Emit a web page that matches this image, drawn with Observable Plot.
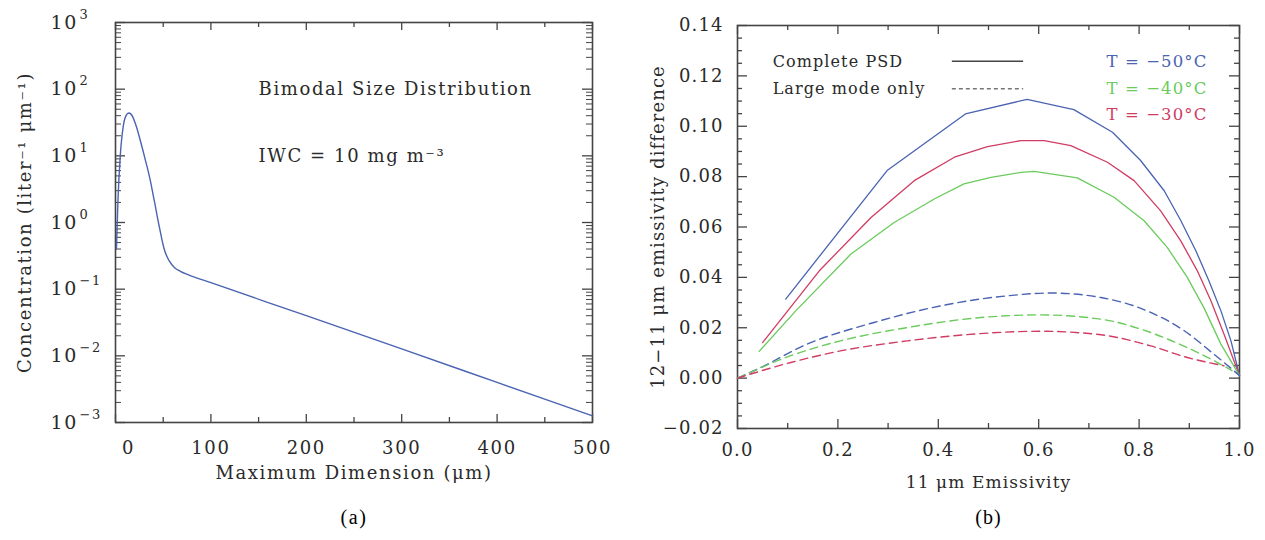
<!DOCTYPE html>
<html>
<head>
<meta charset="utf-8">
<script src="https://cdn.jsdelivr.net/npm/d3@7"></script>
<script src="https://cdn.jsdelivr.net/npm/@observablehq/plot@0.6"></script>
<style>
  body { margin: 0; background: #fff; }
  #wrap { position: relative; width: 1265px; height: 540px; background: #fff; }
  #wrap svg { position: absolute; top: 0; }
</style>
</head>
<body>
<div id="wrap"></div>
<script>
// ---------- Panel (a) data: bimodal size distribution ----------
const sizeX = [1, 2.5, 5, 8, 11, 14, 17, 21, 26, 31, 36, 41, 46, 51, 56, 62, 68, 76, 100, 200, 300, 400, 500];
const concY = [0.4, 2.0, 10, 27, 40, 44, 41, 30, 17, 9, 4.6, 2.0, 0.85, 0.40, 0.27, 0.21, 0.185, 0.165, 0.125, 0.040, 0.0127, 0.0040, 0.00126];
const aXTicks = [0, 100, 200, 300, 400, 500];
const aXMinor = [50, 150, 250, 350, 450];
const aYTicks = [1e-3, 1e-2, 1e-1, 1e0, 1e1, 1e2, 1e3];
const aYTickBase = "10";
const aYTickExp = ["−3", "−2", "−1", "0", "1", "2", "3"];
const aTexts = ["Bimodal Size Distribution", "IWC = 10 mg m⁻³"];
const aXLabel = "Maximum Dimension (μm)";
const aYLabel = "Concentration (liter⁻¹ μm⁻¹)";

// ---------- Panel (b) data: emissivity differences ----------
const blueSolidX = [0.096, 0.298, 0.454, 0.577, 0.670, 0.747, 0.803, 0.850, 0.883, 0.913, 0.939, 0.963, 0.983, 1.0];
const blueSolidY = [0.0314, 0.0824, 0.1049, 0.1107, 0.1066, 0.0976, 0.0864, 0.0744, 0.0626, 0.0506, 0.0387, 0.0267, 0.0148, 0.001];
const redSolidX = [0.050, 0.163, 0.266, 0.352, 0.432, 0.498, 0.565, 0.611, 0.664, 0.737, 0.790, 0.843, 0.883, 0.916, 0.943, 0.969, 1.0];
const redSolidY = [0.0141, 0.0426, 0.0638, 0.0784, 0.0877, 0.0919, 0.0943, 0.0943, 0.0923, 0.0857, 0.0784, 0.0664, 0.0545, 0.0426, 0.0307, 0.0175, 0.001];
const greenSolidX = [0.043, 0.116, 0.226, 0.312, 0.392, 0.451, 0.505, 0.565, 0.591, 0.677, 0.750, 0.810, 0.856, 0.896, 0.929, 0.963, 1.0];
const greenSolidY = [0.0106, 0.0267, 0.0493, 0.0618, 0.0711, 0.0771, 0.0797, 0.0817, 0.0821, 0.0795, 0.0718, 0.0625, 0.0519, 0.0400, 0.0280, 0.0135, 0.001];
const blueDashX = [0.0, 0.040, 0.139, 0.272, 0.405, 0.538, 0.624, 0.724, 0.823, 0.890, 0.949, 0.989, 1.0];
const blueDashY = [0.0, 0.0036, 0.0135, 0.0221, 0.0287, 0.0327, 0.0338, 0.0320, 0.0261, 0.0188, 0.0095, 0.0029, 0.001];
const greenDashX = [0.0, 0.106, 0.205, 0.339, 0.471, 0.604, 0.724, 0.823, 0.896, 0.956, 0.985];
const greenDashY = [0.0, 0.0089, 0.0148, 0.0201, 0.0238, 0.0251, 0.0234, 0.0181, 0.0121, 0.0062, 0.003];
const redDashX = [0.0, 0.106, 0.205, 0.339, 0.471, 0.604, 0.724, 0.823, 0.896, 0.969];
const redDashY = [0.0, 0.0062, 0.0108, 0.0148, 0.0175, 0.0186, 0.0172, 0.0128, 0.0082, 0.0049];
const bXTicks = [0.0, 0.2, 0.4, 0.6, 0.8, 1.0];
const bXMinor = [0.1, 0.3, 0.5, 0.7, 0.9];
const bYTicks = [-0.02, 0.00, 0.02, 0.04, 0.06, 0.08, 0.10, 0.12, 0.14];
const seriesNames = ["T = −50°C", "T = −40°C", "T = −30°C"];
const legendNames = ["Complete PSD", "Large mode only"];
const bXLabel = "11 μm Emissivity";
const bYLabel = "12−11 μm emissivity difference";

const BLUE = "#4a63b2", GREEN = "#6acb5c", RED = "#d03c62";
const INK = "#2a2a2a", FRAME = "#444";
const FONT = "DejaVu Serif";

const zip = (xs, ys) => xs.map((x, i) => ({x, y: ys[i]}));

// ---------- Panel (a) ----------
const aW = 620, aH = 540, aML = 115, aMR = 28, aMT = 22, aMB = 118;
const aIW = aW - aML - aMR, aIH = aH - aMT - aMB;
const aYMinor = [];
for (let e = -3; e < 3; e++) for (let k = 2; k <= 9; k++) aYMinor.push(k * Math.pow(10, e));

const plotA = Plot.plot({
  width: aW, height: aH,
  marginLeft: aML, marginRight: aMR, marginTop: aMT, marginBottom: aMB,
  x: {domain: [0, 500], axis: null},
  y: {type: "log", domain: [1e-3, 1e3], axis: null},
  style: {fontFamily: FONT, fontSize: "18px", letterSpacing: "1.6px", color: INK, background: "transparent", overflow: "visible"},
  marks: [
    // inward ticks
    Plot.tickX(aXTicks, {x: d => d, insetTop: aIH - 8, stroke: FRAME, strokeWidth: 1.3}),
    Plot.tickX(aXMinor, {x: d => d, insetTop: aIH - 5, stroke: FRAME, strokeWidth: 1.3}),
    Plot.tickX(aXTicks, {x: d => d, insetBottom: aIH - 8, stroke: FRAME, strokeWidth: 1.3}),
    Plot.tickX(aXMinor, {x: d => d, insetBottom: aIH - 5, stroke: FRAME, strokeWidth: 1.3}),
    Plot.tickY(aYTicks, {y: d => d, insetRight: aIW - 10, stroke: FRAME, strokeWidth: 1.3}),
    Plot.tickY(aYMinor, {y: d => d, insetRight: aIW - 6, stroke: FRAME, strokeWidth: 1}),
    Plot.tickY(aYTicks, {y: d => d, insetLeft: aIW - 10, stroke: FRAME, strokeWidth: 1.3}),
    Plot.tickY(aYMinor, {y: d => d, insetLeft: aIW - 6, stroke: FRAME, strokeWidth: 1}),
    Plot.frame({stroke: FRAME, strokeWidth: 1.6}),
    // tick labels
    Plot.text(aXTicks.filter(d => d !== 0), {x: d => d, text: d => String(d), frameAnchor: "bottom", dy: 31, fill: INK}),
    Plot.text(aXTicks.filter(d => d === 0), {x: d => d, text: d => String(d), frameAnchor: "bottom", dy: 31, dx: 13, fill: INK}),
    Plot.text(aYTicks, {y: d => d, text: () => aYTickBase, frameAnchor: "left", dx: -65, textAnchor: "start", fontSize: 19, fill: INK}),
    Plot.text(aYTicks, {y: d => d, text: (d, i) => aYTickExp[i], frameAnchor: "left", dx: -36, dy: -8, textAnchor: "start", fontSize: 13, fill: INK}),
    // curve
    Plot.line(zip(sizeX, concY), {x: "x", y: "y", stroke: BLUE, strokeWidth: 1.4, curve: "monotone-x"}),
    // annotations
    Plot.text([aTexts[0]], {x: 150, y: 100, text: d => d, textAnchor: "start", fontSize: 18, fill: INK}),
    Plot.text([aTexts[1]], {x: 150, y: 10, text: d => d, textAnchor: "start", fontSize: 18, fill: INK}),
    // axis titles
    Plot.text([aXLabel], {frameAnchor: "bottom", dy: 56, text: d => d, textAnchor: "middle", fontSize: 18, fill: INK}),
    Plot.text([aYLabel], {frameAnchor: "left", dx: -90, rotate: -90, text: d => d, textAnchor: "middle", fontSize: 18, fill: INK}),
    Plot.text(["(a)"], {frameAnchor: "bottom", dy: 101, text: d => d, textAnchor: "middle", fontFamily: "Liberation Serif", fontSize: 20, fill: "#000"})
  ]
});
plotA.style.left = "0px";

// ---------- Panel (b) ----------
const bW = 635, bH = 540, bML = 107, bMR = 26, bMT = 25, bMB = 112;
const bIW = bW - bML - bMR, bIH = bH - bMT - bMB;
const bYMinor = d3.range(-0.015, 0.14, 0.005).filter(v => Math.abs(Math.round(v / 0.02) * 0.02 - v) > 1e-6);
const fmt2 = d3.format(".2f"), fmt1 = d3.format(".1f");

const plotB = Plot.plot({
  width: bW, height: bH,
  marginLeft: bML, marginRight: bMR, marginTop: bMT, marginBottom: bMB,
  x: {domain: [0, 1], axis: null},
  y: {domain: [-0.02, 0.14], axis: null},
  style: {fontFamily: FONT, fontSize: "18px", letterSpacing: "1.1px", color: INK, background: "transparent", overflow: "visible"},
  marks: [
    Plot.tickX(bXTicks, {x: d => d, insetTop: bIH - 9, stroke: FRAME, strokeWidth: 1.3}),
    Plot.tickX(bXMinor, {x: d => d, insetTop: bIH - 5, stroke: FRAME, strokeWidth: 1.3}),
    Plot.tickX(bXTicks, {x: d => d, insetBottom: bIH - 9, stroke: FRAME, strokeWidth: 1.3}),
    Plot.tickX(bXMinor, {x: d => d, insetBottom: bIH - 5, stroke: FRAME, strokeWidth: 1.3}),
    Plot.tickY(bYTicks, {y: d => d, insetRight: bIW - 10, stroke: FRAME, strokeWidth: 1.3}),
    Plot.tickY(bYMinor, {y: d => d, insetRight: bIW - 5, stroke: FRAME, strokeWidth: 1.3}),
    Plot.tickY(bYTicks, {y: d => d, insetLeft: bIW - 10, stroke: FRAME, strokeWidth: 1.3}),
    Plot.tickY(bYMinor, {y: d => d, insetLeft: bIW - 5, stroke: FRAME, strokeWidth: 1.3}),
    Plot.frame({stroke: FRAME, strokeWidth: 1.6}),
    Plot.text(bXTicks, {x: d => d, text: d => fmt1(d), frameAnchor: "bottom", dy: 27, fill: INK}),
    Plot.text(bYTicks, {y: d => d, text: d => fmt2(d), frameAnchor: "left", dx: -14, textAnchor: "end", fill: INK}),
    // solid curves
    Plot.line(zip(blueSolidX, blueSolidY), {x: "x", y: "y", stroke: BLUE, strokeWidth: 1.3}),
    Plot.line(zip(redSolidX, redSolidY), {x: "x", y: "y", stroke: RED, strokeWidth: 1.3}),
    Plot.line(zip(greenSolidX, greenSolidY), {x: "x", y: "y", stroke: GREEN, strokeWidth: 1.3}),
    // dashed curves
    Plot.line(zip(blueDashX, blueDashY), {x: "x", y: "y", stroke: BLUE, strokeWidth: 1.4, strokeDasharray: "8,5", curve: "monotone-x"}),
    Plot.line(zip(greenDashX, greenDashY), {x: "x", y: "y", stroke: GREEN, strokeWidth: 1.4, strokeDasharray: "8,5", curve: "monotone-x"}),
    Plot.line(zip(redDashX, redDashY), {x: "x", y: "y", stroke: RED, strokeWidth: 1.4, strokeDasharray: "8,5", curve: "monotone-x"}),
    // legend (line styles)
    Plot.text([legendNames[0]], {x: 0.07, y: 0.1255, text: d => d, textAnchor: "start", fontSize: 16, fill: INK}),
    Plot.text([legendNames[1]], {x: 0.07, y: 0.115, text: d => d, textAnchor: "start", fontSize: 16, fill: INK}),
    Plot.ruleY([0.1258], {x1: 0.428, x2: 0.57, stroke: "#444", strokeWidth: 1.4}),
    Plot.ruleY([0.1149], {x1: 0.428, x2: 0.57, stroke: "#777", strokeWidth: 1.4, strokeDasharray: "4,3"}),
    // legend (temperatures)
    Plot.text([seriesNames[0]], {x: 0.936, y: 0.1255, text: d => d, textAnchor: "end", fontSize: 16.5, fill: BLUE}),
    Plot.text([seriesNames[1]], {x: 0.936, y: 0.115, text: d => d, textAnchor: "end", fontSize: 16.5, fill: GREEN}),
    Plot.text([seriesNames[2]], {x: 0.936, y: 0.1045, text: d => d, textAnchor: "end", fontSize: 16.5, fill: RED}),
    // axis titles
    Plot.text([bXLabel], {frameAnchor: "bottom", dy: 59, text: d => d, textAnchor: "middle", fontSize: 17, fill: INK}),
    Plot.text([bYLabel], {frameAnchor: "left", dx: -79, rotate: -90, text: d => d, textAnchor: "middle", fontSize: 18, fill: INK}),
    Plot.text(["(b)"], {frameAnchor: "bottom", dy: 95, text: d => d, textAnchor: "middle", fontFamily: "Liberation Serif", fontSize: 20, fill: "#000"})
  ]
});
plotB.style.left = "630px";

const wrap = document.getElementById("wrap");
wrap.appendChild(plotA);
wrap.appendChild(plotB);
</script>
</body>
</html>
